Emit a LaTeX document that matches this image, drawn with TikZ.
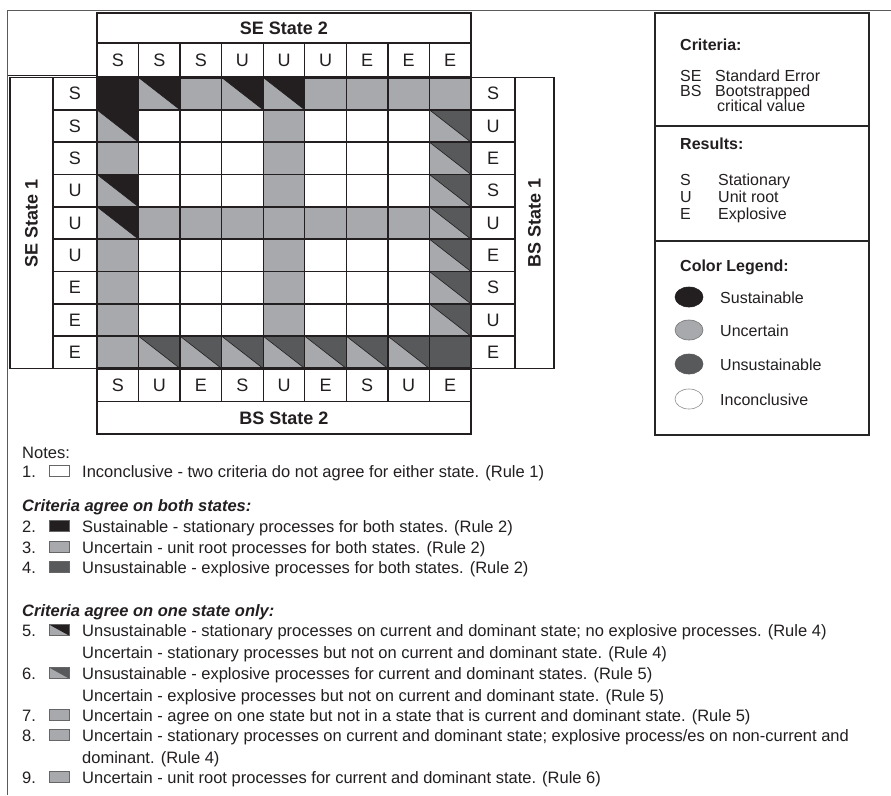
\documentclass[tikz,border=0pt]{standalone}
\usepackage{fontspec}
\setmainfont{Liberation Sans}
\usetikzlibrary{shapes.geometric}
\definecolor{sblack}{HTML}{231F20}
\definecolor{sgrey}{HTML}{A7A9AC}
\definecolor{sdark}{HTML}{58595B}
\definecolor{lk}{HTML}{231F20}
\definecolor{framec}{HTML}{5A5A5A}
\newcommand\cellw{41.556}
\newcommand\cellh{32.333}
\newcommand\cfW[2]{}
\newcommand\cfB[2]{\fill[sblack] (#1,#2) rectangle ++(\cellw,\cellh);}
\newcommand\cfG[2]{\fill[sgrey] (#1,#2) rectangle ++(\cellw,\cellh);}
\newcommand\cfD[2]{\fill[sdark] (#1,#2) rectangle ++(\cellw,\cellh);}
\newcommand\cfX[2]{\fill[sgrey] (#1,#2) rectangle ++(\cellw,\cellh);
  \fill[sblack] (#1,#2) -- ++(\cellw,0) -- ++(0,\cellh) -- cycle;
  \draw[line width=0.6pt,lk] (#1,#2) -- ++(\cellw,\cellh);}
\newcommand\cfY[2]{\fill[sgrey] (#1,#2) rectangle ++(\cellw,\cellh);
  \fill[sdark] (#1,#2) -- ++(\cellw,0) -- ++(0,\cellh) -- cycle;
  \draw[line width=0.6pt,lk] (#1,#2) -- ++(\cellw,\cellh);}
\begin{document}
\begin{tikzpicture}[x=1pt,y=-1pt,
  gl/.style={line width=1.4pt, draw=lk},
  lett/.style={font=\fontsize{18}{20}\selectfont, inner sep=0pt, text=lk},
  hdr/.style={font=\fontsize{18}{20}\selectfont\bfseries, inner sep=0pt, text=lk},
  note/.style={font=\fontsize{16.5}{20}\selectfont, inner sep=0pt, anchor=base west, text=lk},
  notehd/.style={font=\fontsize{16.5}{20}\selectfont\bfseries\itshape, inner sep=0pt, anchor=base west, text=lk},
  leg/.style={font=\fontsize{16}{19}\selectfont, inner sep=0pt, anchor=base west, text=lk},
  leghd/.style={font=\fontsize{16}{19}\selectfont\bfseries, inner sep=0pt, anchor=base west, text=lk},
  sw/.style={draw=black!60, line width=0.6pt},
  lell/.style={ellipse, minimum width=28pt, minimum height=20pt, inner sep=0pt, line width=0.6pt}]
\useasboundingbox (0,0) rectangle (891,795);
\fill[white] (0,0) rectangle (891,795);
% frame
\draw[line width=1.5pt, framec] (7.5,795) -- (7.5,10.5) -- (891,10.5);
\draw[gl] (7.5,75.5) -- (97,75.5);
% cells
\foreach \row [count=\r] in {{B,X,G,X,X,G,G,G,G},{X,W,W,W,G,W,W,W,Y},{G,W,W,W,G,W,W,W,Y},
  {X,W,W,W,G,W,W,W,Y},{X,G,G,G,G,G,G,G,Y},{G,W,W,W,G,W,W,W,Y},{G,W,W,W,G,W,W,W,Y},
  {G,W,W,W,G,W,W,W,Y},{G,Y,Y,Y,Y,Y,Y,Y,D}}{
  \foreach \t [count=\c] in \row {
    \pgfmathsetmacro\xa{97+(\c-1)*\cellw}
    \pgfmathsetmacro\ya{77.5+(\r-1)*\cellh}
    \csname cf\t\endcsname{\xa}{\ya}
  }
}
\foreach \i in {0,...,9}{
  \draw[gl] ({97+\i*\cellw},77.5) -- ({97+\i*\cellw},368.5);
  \draw[gl] (97,{77.5+\i*\cellh}) -- (471,{77.5+\i*\cellh});
}
\draw[line width=2.2pt, lk] (97,77.5) rectangle (471,368.5);
% top letters
\draw[gl] (97,43) rectangle (471,77.5);
\foreach \l [count=\c] in {S,S,S,U,U,U,E,E,E}{
  \draw[gl] ({97+\c*\cellw},43) -- ({97+\c*\cellw},77.5);
  \node[lett] (top\c) at ({97+(\c-0.5)*\cellw},60.5) {\l};
}
% bottom letters
\draw[gl] (97,368.5) rectangle (471,401.5);
\foreach \l [count=\c] in {S,U,E,S,U,E,S,U,E}{
  \draw[gl] ({97+\c*\cellw},368.5) -- ({97+\c*\cellw},401.5);
  \node[lett] (bot\c) at ({97+(\c-0.5)*\cellw},385) {\l};
}
% left letters
\draw[gl] (53,77.5) rectangle (97,368.5);
\foreach \l [count=\r] in {S,S,S,U,U,U,E,E,E}{
  \draw[gl] (53,{77.5+\r*\cellh}) -- (97,{77.5+\r*\cellh});
  \node[lett] (lft\r) at (75,{77.5+(\r-0.5)*\cellh}) {\l};
}
% right letters
\draw[gl] (471,77.5) rectangle (515,368.5);
\foreach \l [count=\r] in {S,U,E,S,U,E,S,U,E}{
  \draw[gl] (471,{77.5+\r*\cellh}) -- (515,{77.5+\r*\cellh});
  \node[lett] (rgt\r) at (493,{77.5+(\r-0.5)*\cellh}) {\l};
}
% headers
\draw[gl] (97,13) rectangle (471,43);
\node[hdr] (se2) at (284,28.5) {SE State 2};
\draw[gl] (97,401.5) rectangle (471,434);
\node[hdr] (bs2) at (284,418) {BS State 2};
\draw[gl] (10,77.5) rectangle (53,368.5);
\node[hdr,rotate=90] (se1) at (31.5,223) {SE State 1};
\draw[gl] (515,77.5) rectangle (554,368.5);
\node[hdr,rotate=90] (bs1) at (534.5,223) {BS State 1};
% legend box
\draw[line width=1.5pt, draw=black!85] (655,13) rectangle (869,435);
\draw[line width=1.5pt, draw=black!85] (655,126) -- (869,126);
\draw[line width=1.5pt, draw=black!85] (655,241) -- (869,241);
\node[leghd] (crit) at (680,50) {Criteria:};
\node[leg] (se) at (680,81) {SE};
\node[leg] (sed) at (715,81) {Standard Error};
\node[leg] (bs) at (680,96) {BS};
\node[leg] (bsd) at (715,96) {Bootstrapped};
\node[leg] (bsd2) at (717,111) {critical value};
\node[leghd] (res) at (680,149) {Results:};
\node[leg] (rs) at (680,185) {S};
\node[leg] (rsd) at (718,185) {Stationary};
\node[leg] (ru) at (680,202) {U};
\node[leg] (rud) at (718,202) {Unit root};
\node[leg] (re) at (680,219) {E};
\node[leg] (red) at (718,219) {Explosive};
\node[leghd] (col) at (680,271) {Color Legend:};
\node[lell, fill=sblack, draw=sblack] (e1) at (689,297) {};
\node[leg] (e1t) at (720,303) {Sustainable};
\node[lell, fill=sgrey, draw=black!55] (e2) at (689,330) {};
\node[leg] (e2t) at (720,336) {Uncertain};
\node[lell, fill=sdark, draw=sdark] (e3) at (689,364) {};
\node[leg] (e3t) at (720,370) {Unsustainable};
\node[lell, fill=white, draw=black!45] (e4) at (689,399) {};
\node[leg] (e4t) at (720,405) {Inconclusive};
% notes
\node[note] (notes) at (22,458) {Notes:};
\node[note] (n1) at (22,477) {1.};
\draw[sw, fill=white] (49,465.5) rectangle (69,476.5);
\node[note] (n1t) at (82,477) {Inconclusive - two criteria do not agree for either state. (Rule 1)};
\node[notehd] (h1) at (22,511) {Criteria agree on both states:};
\node[note] (n2) at (22,532) {2.};
\draw[sw, fill=sblack] (49,520.5) rectangle (69,531.5);
\node[note] (n2t) at (82,532) {Sustainable - stationary processes for both states. (Rule 2)};
\node[note] (n3) at (22,553) {3.};
\draw[sw, fill=sgrey] (49,541.5) rectangle (69,552.5);
\node[note] (n3t) at (82,553) {Uncertain - unit root processes for both states. (Rule 2)};
\node[note] (n4) at (22,573) {4.};
\draw[sw, fill=sdark] (49,561.5) rectangle (69,572.5);
\node[note] (n4t) at (82,573) {Unsustainable - explosive processes for both states. (Rule 2)};
\node[notehd] (h2) at (22,616) {Criteria agree on one state only:};
\node[note] (n5) at (22,636) {5.};
\fill[sgrey] (49,624.5) rectangle (69,635.5);
\fill[sblack] (49,624.5) -- (69,624.5) -- (69,635.5) -- cycle;
\draw[sw] (49,624.5) rectangle (69,635.5);
\node[note] (n5t) at (82,636) {Unsustainable - stationary processes on current and dominant state; no explosive processes. (Rule 4)};
\node[note] (n5u) at (82,658) {Uncertain - stationary processes but not on current and dominant state. (Rule 4)};
\node[note] (n6) at (22,679) {6.};
\fill[sgrey] (49,667.5) rectangle (69,678.5);
\fill[sdark] (49,667.5) -- (69,667.5) -- (69,678.5) -- cycle;
\draw[sw] (49,667.5) rectangle (69,678.5);
\node[note] (n6t) at (82,679) {Unsustainable - explosive processes for current and dominant states. (Rule 5)};
\node[note] (n6u) at (82,701) {Uncertain - explosive processes but not on current and dominant state. (Rule 5)};
\node[note] (n7) at (22,721) {7.};
\draw[sw, fill=sgrey] (49,709.5) rectangle (69,720.5);
\node[note] (n7t) at (82,721) {Uncertain - agree on one state but not in a state that is current and dominant state. (Rule 5)};
\node[note] (n8) at (22,741) {8.};
\draw[sw, fill=sgrey] (49,729.5) rectangle (69,740.5);
\node[note] (n8t) at (82,741) {Uncertain - stationary processes on current and dominant state; explosive process/es on non-current and};
\node[note] (n8u) at (82,763) {dominant. (Rule 4)};
\node[note] (n9) at (22,783) {9.};
\draw[sw, fill=sgrey] (49,771.5) rectangle (69,782.5);
\node[note] (n9t) at (82,783) {Uncertain - unit root processes for current and dominant state. (Rule 6)};
\end{tikzpicture}
\end{document}
